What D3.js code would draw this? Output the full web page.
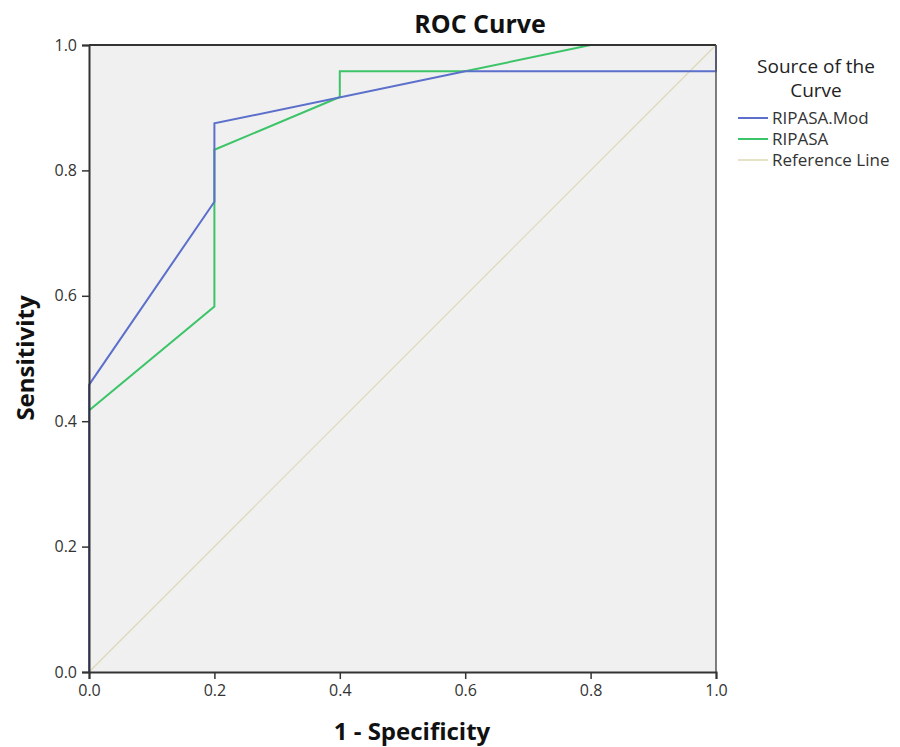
<!DOCTYPE html>
<html><head><meta charset="utf-8">
<script src="https://cdn.jsdelivr.net/npm/d3@7/dist/d3.min.js"></script>
<style>body{margin:0;background:#fff;} text{font-family:"Open Sans","DejaVu Sans",sans-serif;}</style>
</head><body><svg id="c" width="900" height="747"></svg>
<script>
const modX = [0, 0, 0.2, 0.2, 0.6, 1.0, 1.0];
const modY = [0, 0.458, 0.75, 0.875, 0.958, 0.958, 1.0];
const ripX = [0, 0, 0.2, 0.2, 0.4, 0.4, 0.6, 0.8, 1.0];
const ripY = [0, 0.417, 0.583, 0.833, 0.917, 0.958, 0.958, 1.0, 1.0];
const refX = [0, 1];
const refY = [0, 1];
const ticks = [0, 0.2, 0.4, 0.6, 0.8, 1.0];
const seriesNames = ["RIPASA.Mod", "RIPASA", "Reference Line"];
const colors = ["#5b6fcb", "#3cc468", "#dcd8b6"];

const svg = d3.select("#c");
const L = 89, R = 716, T = 45, B = 672;
const x = d3.scaleLinear().domain([0, 1]).range([L, R]);
const y = d3.scaleLinear().domain([0, 1]).range([B, T]);

svg.append("rect").attr("x", L).attr("y", T).attr("width", R - L).attr("height", B - T).attr("fill", "#f0f0f0");

const line = d3.line().x(d => x(d[0])).y(d => y(d[1]));
const series = [
  {xs: refX, ys: refY, c: colors[2], w: 1.2},
  {xs: ripX, ys: ripY, c: colors[1], w: 2},
  {xs: modX, ys: modY, c: colors[0], w: 2}
];
series.forEach(s => {
  svg.append("path").datum(s.xs.map((v, i) => [v, s.ys[i]]))
    .attr("d", line).attr("fill", "none").attr("stroke", s.c).attr("stroke-width", s.w);
});

svg.append("line").attr("x1", L).attr("x2", R).attr("y1", T).attr("y2", T).attr("stroke", "#333").attr("stroke-width", 2);
svg.append("line").attr("x1", R).attr("x2", R).attr("y1", T).attr("y2", B).attr("stroke", "#555").attr("stroke-width", 1.5);

const fmt = d3.format(".1f");
const xa = svg.append("g").attr("transform", `translate(0,${B})`)
  .call(d3.axisBottom(x).tickValues(ticks).tickFormat(fmt).tickSize(7).tickPadding(6));
const ya = svg.append("g").attr("transform", `translate(${L},0)`)
  .call(d3.axisLeft(y).tickValues(ticks).tickFormat(fmt).tickSize(7).tickPadding(5));
[xa, ya].forEach(a => {
  a.select(".domain").attr("stroke", "#333").attr("stroke-width", 2);
  a.selectAll(".tick line").attr("stroke", "#333").attr("stroke-width", 1.5);
  a.selectAll(".tick text").attr("font-size", 16).attr("fill", "#333").attr("font-family", "'Open Sans',sans-serif");
});

svg.append("text").attr("x", 480).attr("y", 33).attr("text-anchor", "middle")
  .attr("font-size", 25).attr("font-weight", "bold").attr("fill", "#111").text("ROC Curve");
svg.append("text").attr("x", 412).attr("y", 740).attr("text-anchor", "middle")
  .attr("font-size", 24).attr("font-weight", "bold").attr("fill", "#111").text("1 - Specificity");
svg.append("text").attr("transform", "translate(34,358) rotate(-90)").attr("text-anchor", "middle")
  .attr("font-size", 24).attr("font-weight", "bold").attr("fill", "#111").text("Sensitivity");

svg.append("text").attr("x", 816).attr("y", 73).attr("text-anchor", "middle").attr("font-size", 19).attr("fill", "#222").text("Source of the");
svg.append("text").attr("x", 816).attr("y", 97).attr("text-anchor", "middle").attr("font-size", 19).attr("fill", "#222").text("Curve");
seriesNames.forEach((n, i) => {
  const yy = 118 + i * 21;
  svg.append("line").attr("x1", 738).attr("x2", 768).attr("y1", yy).attr("y2", yy)
    .attr("stroke", colors[i]).attr("stroke-width", i === 2 ? 1.5 : 2);
  svg.append("text").attr("x", 772).attr("y", yy + 6).attr("font-size", 17).attr("fill", "#333").text(n);
});
</script></body></html>
